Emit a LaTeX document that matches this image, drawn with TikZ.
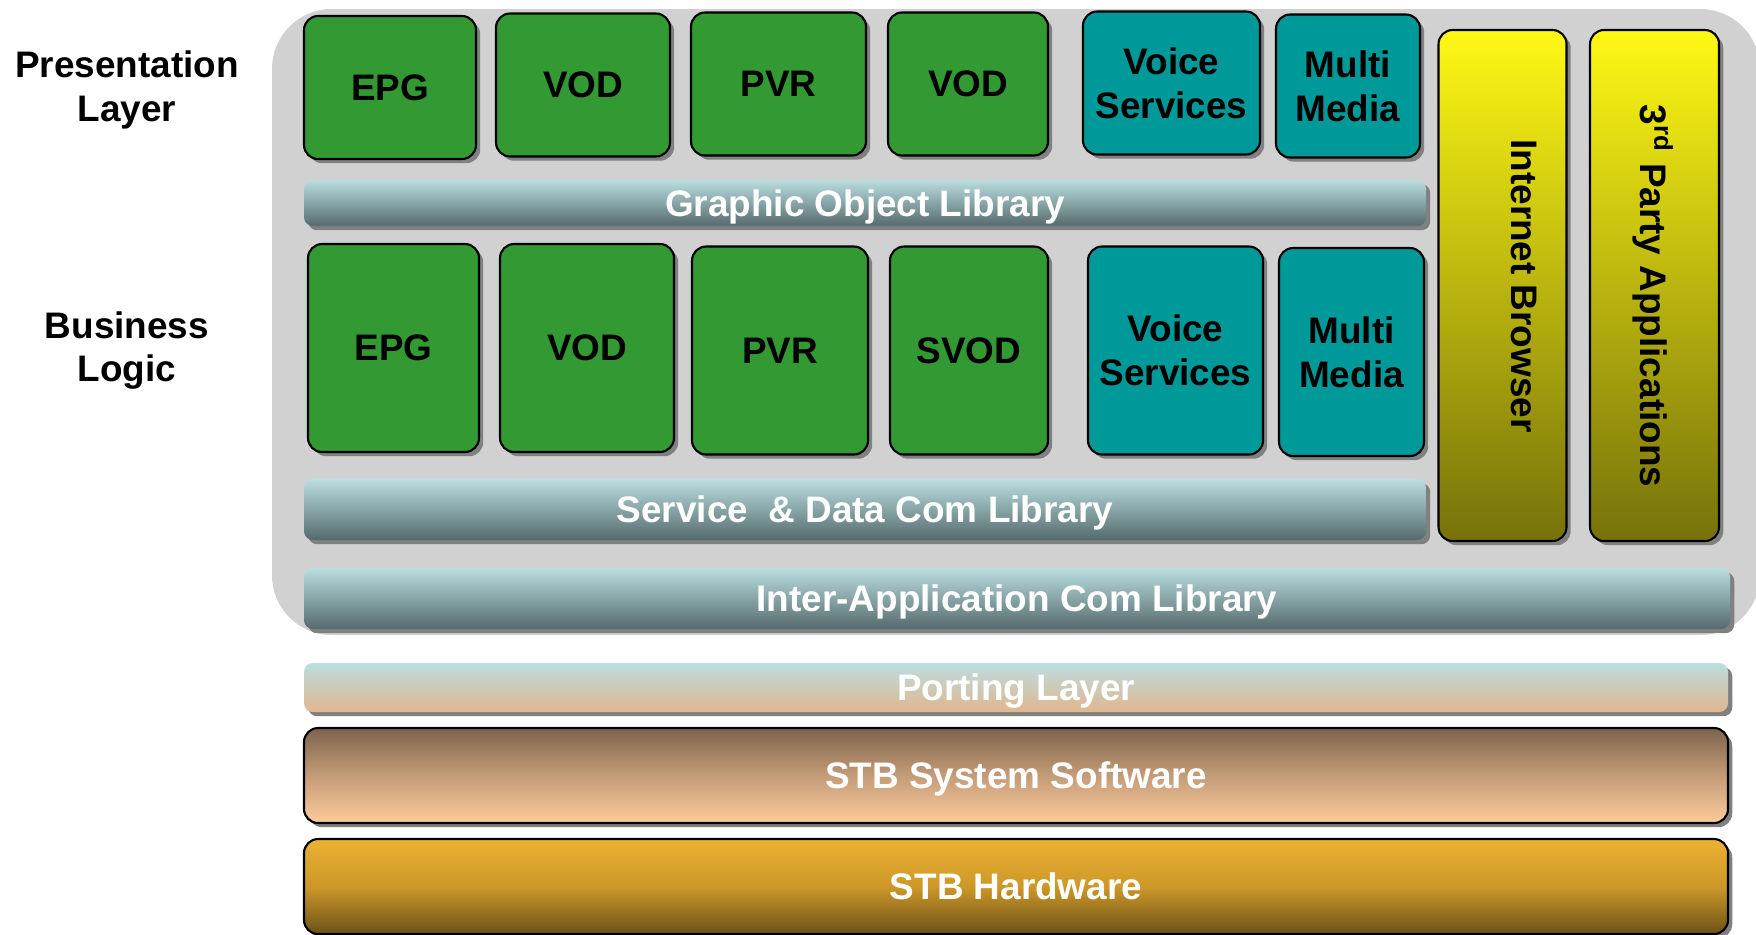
\documentclass[tikz,border=0pt]{standalone}
\usepackage{fontspec}
\setmainfont{Liberation Sans}
\usetikzlibrary{shadows}

\definecolor{panel}{RGB}{209,209,209}
\definecolor{appgreen}{RGB}{51,153,51}
\definecolor{appteal}{RGB}{0,153,153}
\definecolor{ylwtop}{RGB}{255,248,20}
\definecolor{ylwbot}{RGB}{118,114,10}
\definecolor{libtop}{RGB}{186,222,225}
\definecolor{libbot}{RGB}{85,106,108}
\definecolor{porttop}{RGB}{186,222,224}
\definecolor{portbot}{RGB}{224,182,142}
\definecolor{swtop}{RGB}{125,99,75}
\definecolor{swmid}{RGB}{196,156,120}
\definecolor{swbot}{RGB}{253,203,155}
\definecolor{hwtop}{RGB}{235,177,50}
\definecolor{hwmid}{RGB}{205,152,40}
\definecolor{hwbot}{RGB}{107,81,23}

\tikzset{
  boxshadow/.style = {drop shadow={shadow xshift=1.2pt, shadow yshift=-1.2pt, opacity=1, fill=black!50}},
  app/.style = {draw, line width=.6pt, rounded corners=4pt, fill=appgreen, boxshadow,
                inner sep=0pt, align=center},
  toprow/.style = {app, minimum height=1.43cm},
  botrow/.style = {app, minimum height=2.08cm},
  voice/.style = {fill=appteal},
  tallbox/.style = {draw, line width=.6pt, rounded corners=4pt, boxshadow,
                    top color=ylwtop, bottom color=ylwbot, minimum width=1.28cm, minimum height=5.11cm},
  libbar/.style = {rounded corners=2.5pt, boxshadow, text=white, inner sep=0pt,
                   text height=7.5pt, text depth=0pt, top color=libtop, bottom color=libbot},
  stbbar/.style = {draw, line width=.6pt, rounded corners=4pt, boxshadow, text=white, inner sep=0pt,
                   text height=7.5pt, text depth=0pt, minimum width=14.24cm, minimum height=.95cm}
}

\begin{document}
\begin{tikzpicture}[x=1cm, y=-1cm, font=\fontsize{10.5}{12.5}\selectfont\bfseries]
\useasboundingbox (0,0) rectangle (17.56,9.34);
\fill[panel, rounded corners=17pt] (2.72,0.09) rectangle (17.60,6.35);

% layer names
\node[align=center] (preslayer) at (1.27,0.895) {Presentation\\Layer};
\node[align=center] (buslogic) at (1.27,3.505) {Business\\Logic};

% presentation layer
\node[toprow, minimum width=1.72cm] (epgtop) at (3.90,0.875) {EPG};
\node[toprow, minimum width=1.74cm] (vodtop) at (5.83,0.85) {VOD};
\node[toprow, minimum width=1.75cm] (pvrtop) at (7.785,0.84) {PVR};
\node[toprow, minimum width=1.60cm] (vodtopb) at (9.68,0.84) {VOD};
\node[toprow, voice, minimum width=1.77cm] (voicetop) at (11.715,0.83) {Voice\\Services};
\node[toprow, voice, minimum width=1.44cm] (mmtop) at (13.48,0.86) {Multi\\Media};

\node[libbar, minimum width=11.22cm, minimum height=.46cm] (gol) at (8.65,2.03) {Graphic Object Library};

% business logic
\node[botrow, minimum width=1.71cm] (epgbl) at (3.935,3.48) {EPG};
\node[botrow, minimum width=1.74cm] (vodbl) at (5.87,3.48) {VOD};
\node[botrow, minimum width=1.76cm] (pvrbl) at (7.80,3.505) {PVR};
\node[botrow, minimum width=1.58cm] (svodbl) at (9.69,3.505) {SVOD};
\node[botrow, voice, minimum width=1.75cm] (voicebl) at (11.755,3.505) {Voice\\Services};
\node[botrow, voice, minimum width=1.45cm] (mmbl) at (13.515,3.52) {Multi\\Media};

\node[libbar, minimum width=11.22cm, minimum height=.61cm] (sdc) at (8.65,5.095) {Service ~\& Data Com Library};

% browser and 3rd party
\node[tallbox] (browser) at (15.025,2.855) {};
\node[rotate=-90] (browsertext) at (15.24,2.86) {Internet Browser};
\node[tallbox, minimum width=1.29cm] (thirdparty) at (16.545,2.855) {};
\node[rotate=-90] (thirdtext) at (16.53,2.96) {3\textsuperscript{rd} Party Applications};

\node[libbar, minimum width=14.26cm, minimum height=.61cm] (iac) at (10.17,5.985) {Inter-Application Com Library};

% platform
\node[libbar, top color=porttop, bottom color=portbot, minimum width=14.24cm, minimum height=.49cm] (porting) at (10.16,6.875) {Porting Layer};
\node[stbbar, top color=swtop, bottom color=swbot, middle color=swmid] (stbsw) at (10.16,7.755) {STB System Software};
\node[stbbar, top color=hwtop, bottom color=hwbot, middle color=hwmid] (stbhw) at (10.16,8.865) {STB Hardware};
\end{tikzpicture}
\end{document}
